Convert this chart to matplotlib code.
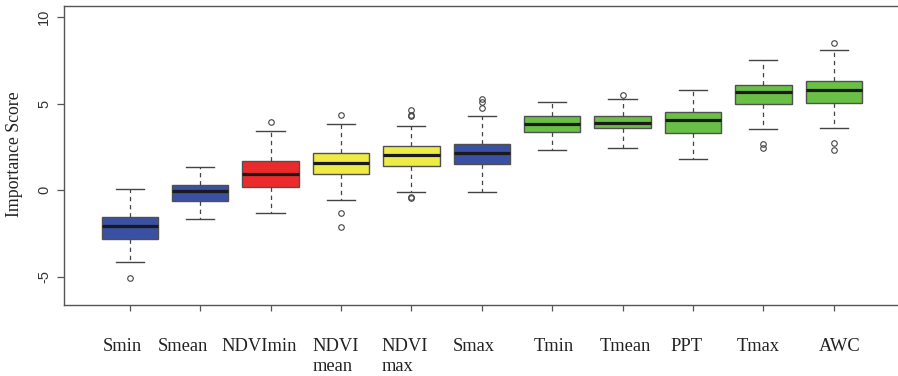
import matplotlib.pyplot as plt
import matplotlib.transforms as mtransforms
import numpy as np

names = ['Smin', 'Smean', 'NDVImin', 'NDVI\nmean', 'NDVI\nmax', 'Smax',
         'Tmin', 'Tmean', 'PPT', 'Tmax', 'AWC']
# five-number summaries
whislo = [-4.15, -1.66, -1.31, -0.56, -0.13, -0.09, 2.34, 2.46, 1.77, 3.53, 3.57]
q1 = [-2.83, -0.62, 0.17, 0.91, 1.42, 1.48, 3.35, 3.57, 3.28, 5.00, 5.06]
med = [-2.09, -0.04, 0.93, 1.57, 2.04, 2.13, 3.80, 3.86, 4.03, 5.66, 5.76]
q3 = [-1.55, 0.31, 1.67, 2.17, 2.54, 2.64, 4.27, 4.30, 4.53, 6.07, 6.29]
whishi = [0.08, 1.34, 3.44, 3.80, 3.70, 4.30, 5.10, 5.29, 5.77, 7.52, 8.09]
fliers = [[-5.06], [], [3.94], [4.36, -1.30, -2.15], [4.65, 4.34, 4.27, -0.42, -0.45],
          [5.27, 5.08, 4.75], [], [5.47], [], [2.64, 2.44], [8.51, 2.73, 2.33]]
groups = ['b', 'b', 'r', 'y', 'y', 'b', 'g', 'g', 'g', 'g', 'g']
pal = {'b': '#3a50a2', 'r': '#ec2a2b', 'y': '#eeea46', 'g': '#6abf45'}
# the labels in the original were placed by hand, a bit off their ticks (px)
label_shift = [-7, -17, -11, -5, -7, -8, 2, 3, -7, -5, 6]

stats = []
for i in range(len(names)):
    stats.append(dict(whislo=whislo[i], q1=q1[i], med=med[i], q3=q3[i],
                      whishi=whishi[i], fliers=fliers[i]))

fig = plt.figure(figsize=(8.98, 3.76), dpi=100)
ax = fig.add_axes([63.5/898, 71/376, (900-63.5)/898, 299/376])

pos = np.arange(1, len(names)+1)
bp = ax.bxp(stats, positions=pos, widths=0.8, patch_artist=True,
            boxprops=dict(edgecolor='#505050', linewidth=1.0),
            medianprops=dict(color='#1a1a1a', linewidth=2.3),
            whiskerprops=dict(color='#444444', linewidth=0.9, linestyle=(0, (3.5, 3))),
            capprops=dict(color='#444444', linewidth=1.0),
            flierprops=dict(marker='o', markersize=4, markerfacecolor='none',
                            markeredgecolor='#444444', markeredgewidth=0.8))
for patch, g in zip(bp['boxes'], groups):
    patch.set_facecolor(pal[g])
for cap in bp['caps']:
    x0, x1 = cap.get_xdata()
    c = (x0 + x1) / 2
    cap.set_xdata([c - 0.2, c + 0.2])

ax.set_xlim(0.06, 11.94)
ax.set_ylim(-6.64, 10.64)
for s in ax.spines.values():
    s.set_color('#555555')
    s.set_linewidth(1.0)

ax.set_xticks(pos)
ax.set_xticklabels(names, family='Liberation Serif', fontsize=13.3,
                   color='#222222', va='top', multialignment='left')
ax.tick_params(axis='x', length=4, width=0.9, color='#555555', pad=20)
for lab, dx in zip(ax.get_xticklabels(), label_shift):
    off = mtransforms.ScaledTranslation(dx/100, 0, fig.dpi_scale_trans)
    lab.set_transform(lab.get_transform() + off)

ax.set_yticks([-5, 0, 5, 10])
ax.set_yticklabels(['-5', '0', '5', '10'], rotation=90, va='center',
                   family='Liberation Sans', fontsize=10.5, color='#333333')
ax.tick_params(axis='y', length=5, width=0.9, color='#555555', pad=4)

ax.set_ylabel('Importance Score', family='Liberation Serif', fontsize=12.8,
              color='#222222')
ax.yaxis.set_label_coords(-0.048, 0.505)

fig.savefig('out.png', dpi=100)
